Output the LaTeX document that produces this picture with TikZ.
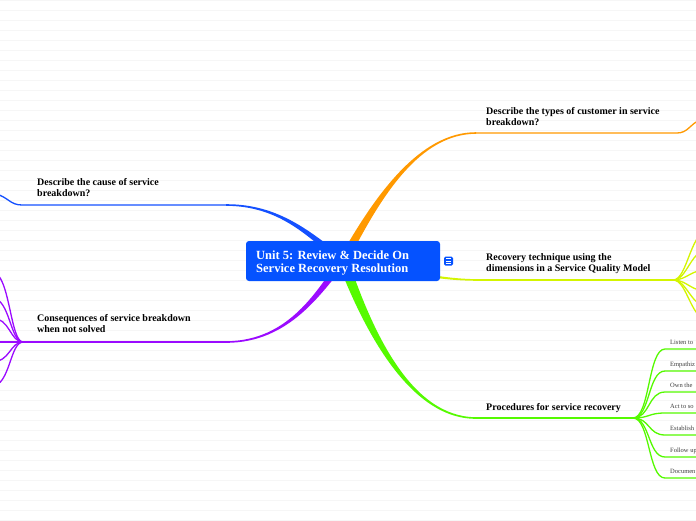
\documentclass[tikz,border=0pt]{standalone}
\usepackage{fontspec}
\setmainfont{Liberation Serif}
\usetikzlibrary{calc}
\definecolor{cOrange}{RGB}{255,153,0}
\definecolor{cBlue}{RGB}{20,80,255}
\definecolor{cPurple}{RGB}{155,10,255}
\definecolor{cYellow}{RGB}{212,245,0}
\definecolor{cGreen}{RGB}{85,250,0}
\definecolor{cRoot}{RGB}{5,82,255}
\definecolor{cBg}{RGB}{246,246,246}
\newcommand\taperband[7]{%
  \fill[#1] ($#2+#6$) .. controls ($#3+0.7*#6$) and ($#4+1.2*#7$) .. ($#5+#7$)
    -- ($#5-#7$) .. controls ($#4-1.2*#7$) and ($#3-0.7*#6$) .. ($#2-#6$) -- cycle;}
\begin{document}
\begin{tikzpicture}[x=1pt,y=-1pt,
  bgline/.style={draw=cBg,line width=1pt},
  lbl/.style={anchor=base west,inner sep=0pt,align=left,text=black,
    font=\bfseries\fontsize{10}{11}\selectfont},
  sublbl/.style={anchor=base west,inner sep=0pt,text=black!75,
    font=\fontsize{6.5}{7}\selectfont},
  ul/.style={line width=1.3pt},
  rootbox/.style={fill=cRoot,rounded corners=3pt,inner sep=0pt,
    minimum width=194pt,minimum height=40pt},
  roottext/.style={anchor=base west,inner sep=0pt,align=left,text=white,
    font=\bfseries\fontsize{12.5}{13.4}\selectfont}]
\useasboundingbox (0,0) rectangle (696,520);
\clip (0,0) rectangle (696,520);
\fill[white] (0,0) rectangle (696,520);
\foreach \k in {0,...,52} \draw[bgline] (0,10*\k) -- (696,10*\k);

% anchor coordinates
\coordinate (R) at (343,261);
\coordinate (O) at (476,133);
\coordinate (B) at (226,205);
\coordinate (P) at (226,342);
\coordinate (G) at (476,418);
\coordinate (Y) at (480,280);
\coordinate (PF) at (23,342);
\coordinate (GF) at (633,418);
\coordinate (YF) at (673,280);
\coordinate (OE) at (700,120);
\coordinate (BE) at (-4,194);

% tapered main branches
\taperband{cBlue}{(R)}{(310,235)}{(280,205)}{(B)}{(2.2,-2.8)}{(0,-0.8)}
\taperband{cPurple}{(R)}{(320,290)}{(290,342)}{(P)}{(-3,-2.4)}{(0,-0.8)}
\taperband{cOrange}{(R)}{(378,195)}{(420,133)}{(O)}{(5,0)}{(0,0.8)}
\taperband{cGreen}{(R)}{(368,330)}{(410,418)}{(G)}{(-5,1.8)}{(0,0.8)}
\taperband{cYellow}{(R)}{(400,268)}{(430,280)}{(Y)}{(0,2.5)}{(0,0.8)}

% underlines and continuation lines
\draw[cOrange,ul] (O) -- (677,133) .. controls (688,133) and (690,124) .. (OE);
\draw[cBlue,ul] (B) -- (22,205) .. controls (10,205) and (8,197) .. (BE);
\draw[cPurple,ul] (P) -- (PF);
\draw[cGreen,ul] (G) -- (GF);
\draw[cYellow,ul] (Y) -- (YF);

% purple children (off canvas)
\foreach \yy in {272,298,318,342,362,386}
  \draw[cPurple,ul] (PF) .. controls (10,342) and (10,\yy) .. (-8,\yy);
% yellow children (off canvas)
\foreach \yy in {228,248,269,292,308,322}
  \draw[cYellow,ul] (YF) .. controls (688,280) and (690,\yy) .. (712,\yy);
% green children
\foreach \yy/\t [count=\i] in {349/Listen to,371/Empathiz,392/Own the,413/Act to so,435/Establish,457/Follow up,478/Documen}{
  \coordinate (gc\i) at (665,\yy);
  \draw[cGreen,ul] (GF) .. controls (650,418) and (648,\yy) .. (gc\i) -- (700,\yy);
  \node[sublbl] (gl\i) at (670,\yy-4.5) {\t};
}

% root
\node[rootbox] (root) at (343,261) {};
\node[roottext] (roott) at (256,272.7) {Unit 5: Review \& Decide On\\Service Recovery Resolution};
\node[fill=cRoot,rounded corners=1.5pt,minimum size=9pt,inner sep=0pt] (icon) at (448.5,261) {};
\foreach \dy in {-2.4,0,2.4}
  \draw[white,line width=0.8pt] ($(icon.center)+(-2.6,\dy)$) -- ($(icon.center)+(2.6,\dy)$);

% labels
\node[lbl] (lo) at (486,125.3) {Describe the types of customer in service\\breakdown?};
\node[lbl] (lb) at (37,196.7) {Describe the cause of service\\breakdown?};
\node[lbl] (ly) at (486,271.7) {Recovery technique using the\\dimensions in a Service Quality Model};
\node[lbl] (lp) at (37,332.7) {Consequences of service breakdown\\when not solved};
\node[lbl] (lg) at (486,410.5) {Procedures for service recovery};
\end{tikzpicture}
\end{document}
